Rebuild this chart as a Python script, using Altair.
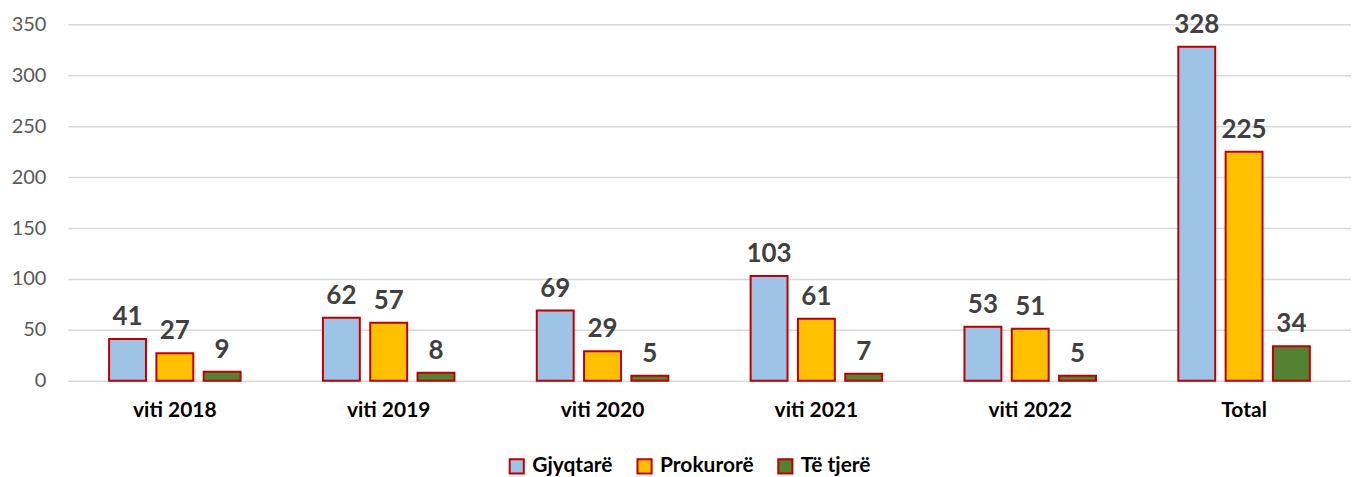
import altair as alt
import pandas as pd

categories = ["viti 2018", "viti 2019", "viti 2020", "viti 2021", "viti 2022", "Total"]
series = ["Gjyqtarë", "Prokurorë", "Të tjerë"]
gjyqtare = [41, 62, 69, 103, 53, 328]
prokurore = [27, 57, 29, 61, 51, 225]
te_tjere = [9, 8, 5, 7, 5, 34]
colors = ["#9DC3E6", "#FFC000", "#548235"]

rows = []
for vals, s in zip([gjyqtare, prokurore, te_tjere], series):
    for c, v in zip(categories, vals):
        rows.append({"cat": c, "series": s, "value": v})
df = pd.DataFrame(rows)

FONT = "Lato"

x = alt.X("cat:N", sort=categories, title=None,
          scale=alt.Scale(paddingInner=0.385, paddingOuter=0.1925),
          axis=alt.Axis(labelAngle=0, labelFont=FONT, labelFontSize=21,
                        labelFontWeight="bold", labelColor="#000000",
                        labelPadding=19, ticks=False, domain=False, grid=False))
xo = alt.XOffset("series:N", sort=series,
                 scale=alt.Scale(paddingInner=0.22, paddingOuter=0))
y = alt.Y("value:Q", title=None,
          scale=alt.Scale(domain=[0, 350], nice=False),
          axis=alt.Axis(values=[0, 50, 100, 150, 200, 250, 300, 350],
                        labelFont=FONT, labelFontSize=20, labelColor="#595959",
                        labelPadding=22, ticks=False, domain=False,
                        gridColor="#D9D9D9", gridWidth=1.5))

bars = alt.Chart(df).mark_bar(stroke="#C00000", strokeWidth=2).encode(
    x=x, xOffset=xo, y=y,
    color=alt.Color("series:N", sort=series,
                    scale=alt.Scale(domain=series, range=colors),
                    legend=alt.Legend(title=None, orient="none", direction="horizontal",
                                      legendX=439, legendY=432,
                                      symbolType="square", symbolSize=200,
                                      symbolStrokeColor="#C00000", symbolStrokeWidth=2,
                                      labelFont=FONT, labelFontSize=21,
                                      labelFontWeight="bold", labelColor="#000000",
                                      labelOffset=5, columnPadding=20)),
)

labels = alt.Chart(df).mark_text(font=FONT, fontSize=26, fontWeight="bold",
                                 color="#404040", baseline="bottom", dy=-9).encode(
    x=alt.X("cat:N", sort=categories), xOffset=xo, y="value:Q", text="value:Q"
)

chart = (bars + labels).properties(
    width=1285, height=357,
    autosize=alt.AutoSizeParams(type="none"),
    padding={"left": 60, "top": 16, "right": 0, "bottom": 96},
).configure_view(stroke=None)

chart.save("out.html", embed_options={"renderer": "svg", "actions": False})
